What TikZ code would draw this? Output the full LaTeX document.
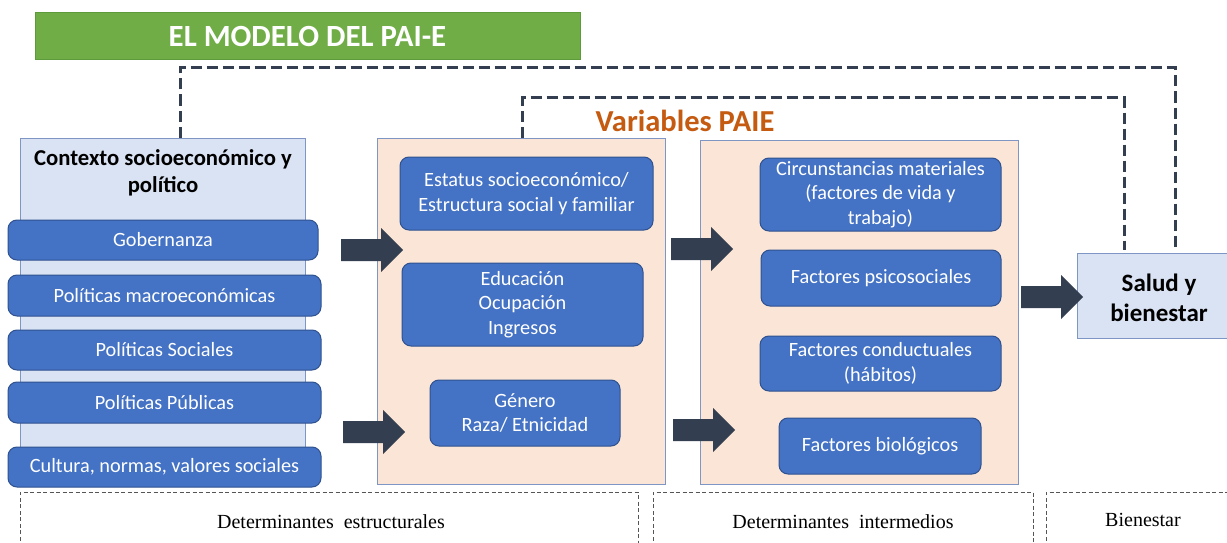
\documentclass[tikz,border=0pt]{standalone}
\usepackage{fontspec}
\setmainfont{Carlito}
\newfontfamily\seriffont{Liberation Serif}
\usetikzlibrary{calc}
\definecolor{boxblue}{HTML}{4472C4}
\definecolor{boxborder}{HTML}{2F528F}
\definecolor{peach}{HTML}{FBE5D6}
\definecolor{lightblue}{HTML}{DAE3F3}
\definecolor{frameblue}{HTML}{7F96C4}
\definecolor{darkslate}{HTML}{333F50}
\definecolor{titlegreen}{HTML}{70AD47}
\definecolor{titleborder}{HTML}{5C9A3A}
\definecolor{orangetxt}{HTML}{C55A11}
\definecolor{framegray}{HTML}{555555}
\tikzset{
  bluebox/.style={draw=boxborder, line width=1pt, fill=boxblue, rounded corners=9pt,
    text=white, align=center, font=\fontsize{20.3}{24.5}\selectfont, inner sep=0pt},
  peachbox/.style={draw=frameblue, line width=1pt, fill=peach, inner sep=0pt},
  lightbox/.style={draw=frameblue, line width=1pt, fill=lightblue, inner sep=0pt},
  dashline/.style={draw=darkslate, line width=3pt, dash pattern=on 11pt off 5pt},
  bandframe/.style={draw=framegray, line width=0.8pt, dash pattern=on 4pt off 2.5pt},
  bandlabel/.style={font=\seriffont\fontsize{20}{23}\selectfont, text=black},
  blockarrow/.style={fill=darkslate},
}
\newcommand\blkarrow[2]{\fill[blockarrow] (#1,#2-11) -- (#1+40,#2-11) -- (#1+40,#2-22) -- (#1+62,#2) -- (#1+40,#2+22) -- (#1+40,#2+11) -- (#1,#2+11) -- cycle;}
\begin{document}
\begin{tikzpicture}[x=1pt,y=-1pt]
\useasboundingbox (0,0) rectangle (1227,543);
\fill[white] (0,0) rectangle (1227,543);

% title
\node[draw=titleborder, line width=1pt, fill=titlegreen, minimum width=545pt, minimum height=47pt, inner sep=0pt,
  text=white, font=\bfseries\fontsize{30.8}{34}\selectfont] (title) at (307.5,36.5) {EL MODELO DEL PAI-E};

% context box
\node[lightbox, minimum width=285pt, minimum height=332pt] (ctx) at (162.5,304) {};
\node[font=\bfseries\fontsize{22.7}{26.5}\selectfont, align=center] (ctxt) at (163,173) {Contexto socioeconómico y\\político};

\node[bluebox, minimum width=310pt, minimum height=40pt] (gob) at (163,240) {Gobernanza};
\node[bluebox, minimum width=313pt, minimum height=41pt] (mac) at (164.5,295.5) {Políticas macroeconómicas};
\node[bluebox, minimum width=313pt, minimum height=40pt] (soc) at (164.5,350) {Políticas Sociales};
\node[bluebox, minimum width=313pt, minimum height=41pt] (pub) at (164.5,402.5) {Políticas Públicas};
\node[bluebox, minimum width=313pt, minimum height=40pt] (cul) at (164.5,467) {Cultura, normas, valores sociales};

% variables PAIE
\node[text=orangetxt, font=\bfseries\fontsize{30.5}{34}\selectfont] (vp) at (685,121) {Variables PAIE};

% peach box 1
\node[peachbox, minimum width=288pt, minimum height=346pt] (p1) at (521,311) {};
\node[bluebox, minimum width=253pt, minimum height=73pt] (est) at (526.5,193.5) {Estatus socioeconómico/\\Estructura social y familiar};
\node[bluebox, minimum width=241pt, minimum height=83pt] (edu) at (522.5,304.5) {Educación\\Ocupación\\Ingresos};
\node[bluebox, minimum width=190pt, minimum height=66pt] (gen) at (525,413) {Género\\Raza/ Etnicidad};

% peach box 2
\node[peachbox, minimum width=318pt, minimum height=344pt] (p2) at (859,312) {};
\node[bluebox, minimum width=241pt, minimum height=73pt] (cir) at (880.5,194.5) {Circunstancias materiales\\(factores de vida y\\trabajo)};
\node[bluebox, minimum width=240pt, minimum height=56pt] (psi) at (881,278) {Factores psicosociales};
\node[bluebox, minimum width=241pt, minimum height=55pt] (con) at (880.5,363.5) {Factores conductuales\\(hábitos)};
\node[bluebox, minimum width=202pt, minimum height=56pt] (bio) at (880,446) {Factores biológicos};

% salud
\node[lightbox, minimum width=162pt, minimum height=85pt] (sal) at (1158,295.5) {};
\node[align=center, font=\bfseries\fontsize{25}{30}\selectfont] (salt) at (1159,297.5) {Salud y\\bienestar};

% block arrows
\blkarrow{341}{250}
\blkarrow{343}{432}
\blkarrow{671}{249}
\blkarrow{673}{430}
\blkarrow{1021}{297}

% dashed feedback lines
\coordinate (o1) at (180,68);
\coordinate (o2) at (1175,68);
\coordinate (i1) at (522,98);
\coordinate (i2) at (1124,98);
\draw[dashline] (ctx.north -| o1) -- (o1) -- (o2) -- ([yshift=3pt]sal.north -| o2);
\draw[dashline] (p1.north -| i1) -- (i1) -- (i2) -- ([yshift=3pt]sal.north -| i2);

% bottom bands
\draw[bandframe] (20,560) -- (20,492) -- (638,492) -- (638,560);
\draw[bandframe] (653,560) -- (653,492) -- (1033,492) -- (1033,560);
\draw[bandframe] (1046,560) -- (1046,492) -- (1240,492);
\node[bandlabel] (b1) at (331,522) {Determinantes\ \ estructurales};
\node[bandlabel] (b2) at (843,522) {Determinantes\ \ intermedios};
\node[bandlabel] (b3) at (1143,520) {Bienestar};
\end{tikzpicture}
\end{document}
